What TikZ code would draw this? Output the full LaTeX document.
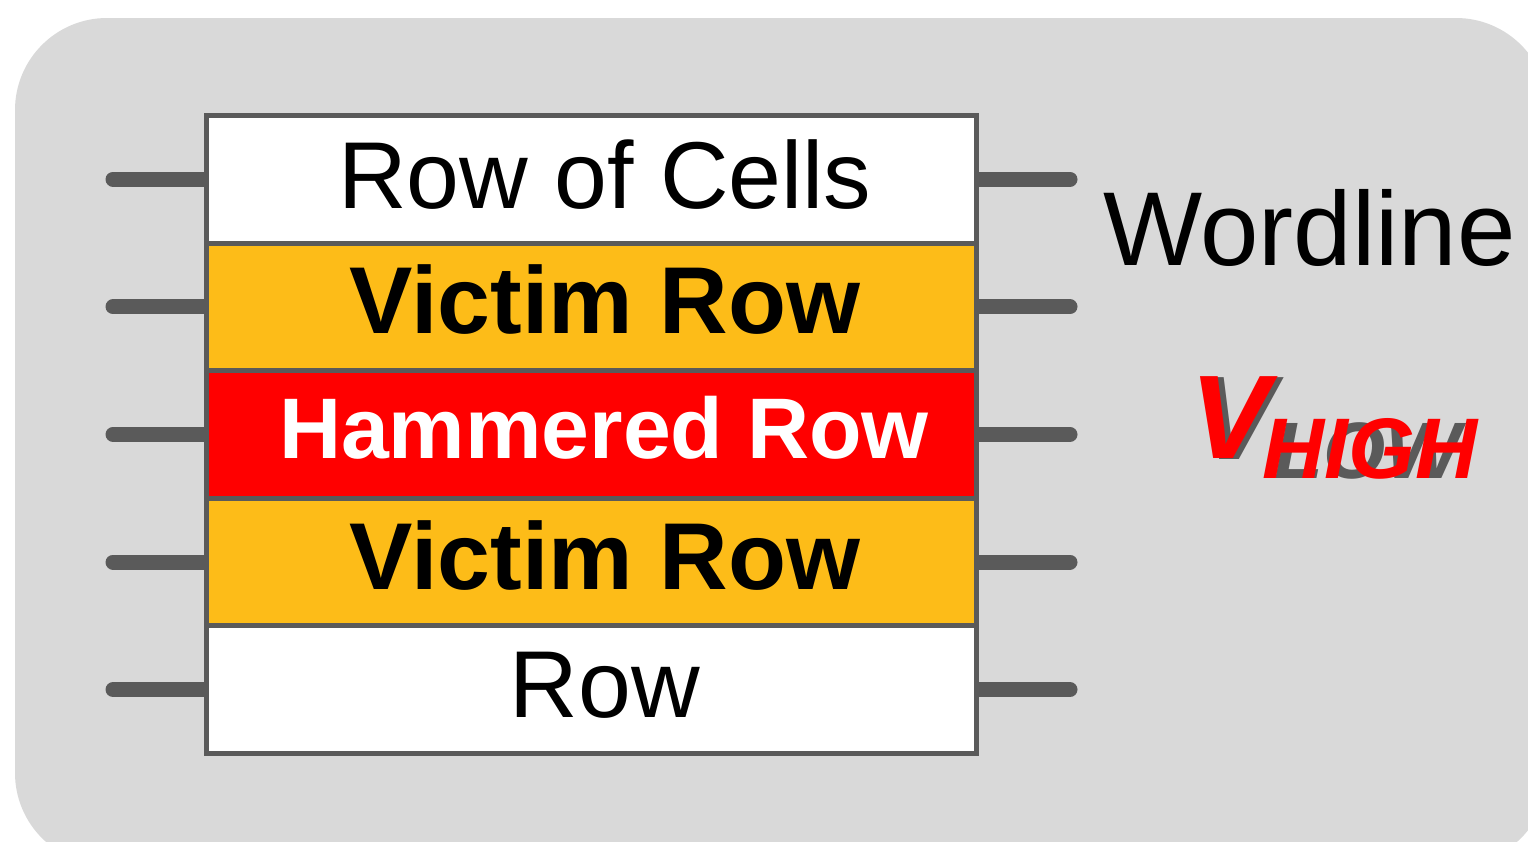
\documentclass[tikz,border=0pt]{standalone}
\usepackage{fontspec}
\setmainfont{Liberation Sans}
\definecolor{panel}{HTML}{D9D9D9}
\definecolor{edge}{HTML}{5A5A5A}
\definecolor{victim}{HTML}{FDBC18}
\definecolor{hammer}{HTML}{FF0000}
\pgfdeclarelayer{back}
\pgfdeclarelayer{wires}
\pgfsetlayers{back,wires,main}
\begin{document}
\begin{tikzpicture}[x=1pt,y=-1pt,
  cellrow/.style={draw=edge,line width=5pt,minimum width=770pt,minimum height=127.6pt,inner sep=0pt,outer sep=0pt},
  stub/.style={draw=edge,line width=15pt,line cap=round},
  rowtext/.style={anchor=base,inner sep=0pt,font=\fontsize{95}{100}\selectfont},
  boldtext/.style={rowtext,font=\fontsize{95}{100}\selectfont\bfseries}]
\useasboundingbox (0,0) rectangle (1528,841);
\begin{pgfonlayer}{back}
\clip (0,0) rectangle (1528,841);
\fill[panel,rounded corners=92pt] (15,18) rectangle (1548,865);
\end{pgfonlayer}

% stack of rows
\node[cellrow,fill=white]  (r1) at (591,179.2) {};
\node[cellrow,fill=victim] (r2) at (591,306.8) {};
\node[cellrow,fill=hammer] (r3) at (591,434.4) {};
\node[cellrow,fill=victim] (r4) at (591,562.0) {};
\node[cellrow,fill=white]  (r5) at (591,689.6) {};

% row labels
\node[rowtext]  (t1) at (605,208) {Row of Cells};
\node[boldtext] (t2) at (605,333) {Victim Row};
\node[rowtext,font=\fontsize{86}{90}\selectfont\bfseries,text=white] (t3) at (604,458) {Hammered Row};
\node[boldtext] (t4) at (605,589) {Victim Row};
\node[rowtext]  (t5) at (605,717) {Row};

% wordlines on both sides, tucked under the row stack
\begin{pgfonlayer}{wires}
\foreach \r in {r1,r2,r3,r4,r5}{
  \coordinate (\r L) at ([xshift=-93pt]\r.west);
  \coordinate (\r R) at ([xshift=94pt]\r.east);
  \draw[stub] (\r.center) -- (\r L);
  \draw[stub] (\r.center) -- (\r R);
}
\end{pgfonlayer}

\node[anchor=base west,inner sep=0pt,font=\fontsize{105}{110}\selectfont] (wl) at (1103,265) {Wordline};

% wordline voltage: low level underneath, high level on top
\node[anchor=base west,inner sep=0pt,text=edge,font=\fontsize{119}{120}\selectfont\bfseries\itshape] (vl) at (1196,459) {V};
\node[anchor=base west,inner sep=0pt,text=edge,font=\fontsize{80}{84}\selectfont\bfseries\itshape] (low) at (1274,478) {LOW};
\node[anchor=base west,inner sep=0pt,text=hammer,font=\fontsize{119}{120}\selectfont\bfseries\itshape] (vh) at (1190,458) {V};
\node[anchor=base west,inner sep=0pt,text=hammer,font=\fontsize{86}{90}\selectfont\bfseries\itshape] (high) at (1262,478) {HIGH};
\end{tikzpicture}
\end{document}
